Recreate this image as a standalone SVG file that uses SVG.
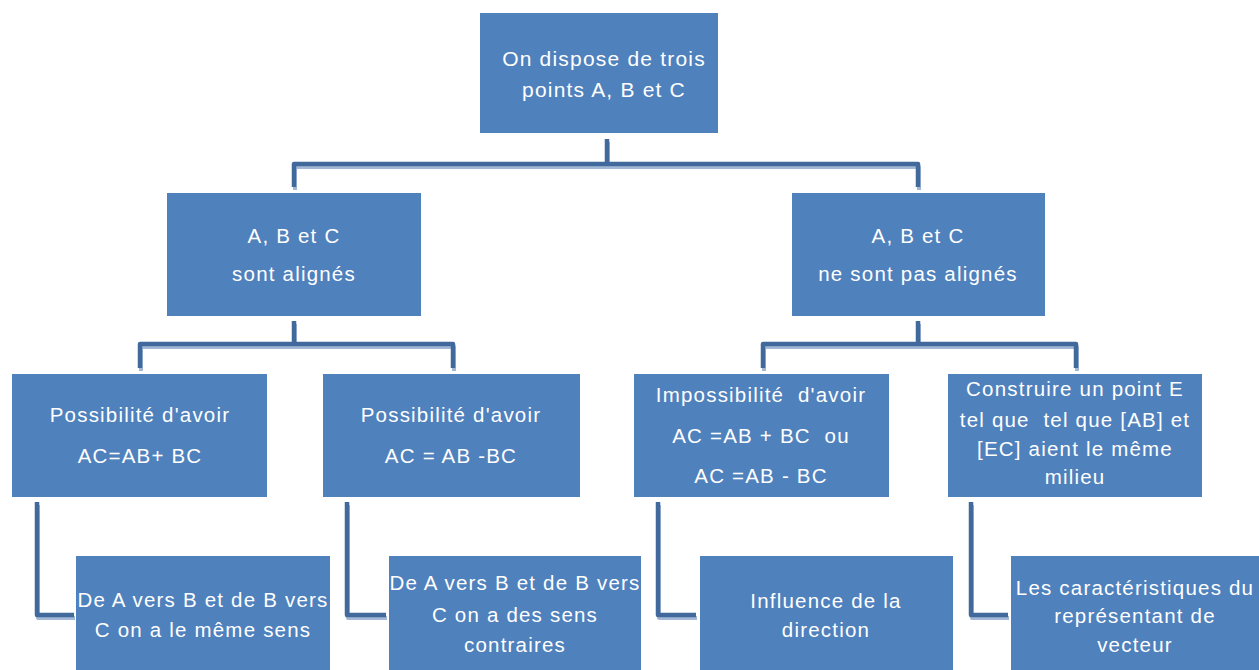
<svg xmlns="http://www.w3.org/2000/svg" width="1259" height="670" viewBox="0 0 1259 670">
<style>
.box{fill:#4f81bd}
.t{font-family:"Liberation Sans",Arial,sans-serif;font-size:20.5px;fill:#ffffff;text-anchor:middle;letter-spacing:1.2px;white-space:pre}
.big{font-size:21px}
.ln{fill:none;stroke:#42699c;stroke-width:4.5;stroke-linejoin:round}
.sh{fill:none;stroke:#a3b8d6;stroke-width:4;stroke-linejoin:round}
</style>
<rect width="1259" height="670" fill="#ffffff"/>
<g id="connectors">
<g transform="translate(1,3)">
<path class="sh" d="M607,139 V164 M294,187 V164 H918 V187"/>
<path class="sh" d="M294,321 V344 M140,368 V344 H453 V368"/>
<path class="sh" d="M918,321 V344 M763,368 V344 H1076 V368"/>
<path class="sh" d="M37,502 V615 H74 M347,502 V615 H386 M658,502 V615 H696 M971,502 V615 H1008"/>
</g>
<path class="ln" d="M607,139 V164 M294,187 V164 H918 V187"/>
<path class="ln" d="M294,321 V344 M140,368 V344 H453 V368"/>
<path class="ln" d="M918,321 V344 M763,368 V344 H1076 V368"/>
<path class="ln" d="M37,502 V615 H74 M347,502 V615 H386 M658,502 V615 H696 M971,502 V615 H1008"/>
</g>
<g id="root">
<rect class="box" x="480" y="13" width="238" height="120"/>
<text class="t big" x="604" y="66">On dispose de trois</text>
<text class="t big" x="604" y="97">points A, B et C</text>
</g>
<g id="aligned">
<rect class="box" x="167" y="193" width="254" height="123"/>
<text class="t" x="294" y="243">A, B et C</text>
<text class="t" x="294" y="281">sont alignés</text>
</g>
<g id="notaligned">
<rect class="box" x="792" y="193" width="253" height="123"/>
<text class="t" x="918" y="243">A, B et C</text>
<text class="t" x="918" y="281">ne sont pas alignés</text>
</g>
<g id="possib1">
<rect class="box" x="12" y="374" width="255" height="123"/>
<text class="t" x="140" y="422">Possibilité d'avoir</text>
<text class="t" x="140" y="463">AC=AB+ BC</text>
</g>
<g id="possib2">
<rect class="box" x="323" y="374" width="257" height="123"/>
<text class="t" x="451" y="422">Possibilité d'avoir</text>
<text class="t" x="451" y="463">AC = AB -BC</text>
</g>
<g id="impossib">
<rect class="box" x="634" y="374" width="255" height="123"/>
<text class="t" x="761" y="402">Impossibilité  d'avoir</text>
<text class="t" x="761" y="443">AC =AB + BC  ou</text>
<text class="t" x="761" y="483">AC =AB - BC</text>
</g>
<g id="construire">
<rect class="box" x="948" y="374" width="254" height="123"/>
<text class="t" x="1075" y="396">Construire un point E</text>
<text class="t" x="1075" y="427">tel que  tel que [AB] et</text>
<text class="t" x="1075" y="456">[EC] aient le même</text>
<text class="t" x="1075" y="484">milieu</text>
</g>
<g id="memesens">
<rect class="box" x="76" y="556" width="254" height="120"/>
<text class="t" x="203" y="607">De A vers B et de B vers</text>
<text class="t" x="203" y="637">C on a le même sens</text>
</g>
<g id="contraires">
<rect class="box" x="389" y="556" width="252" height="120"/>
<text class="t" x="515" y="590">De A vers B et de B vers</text>
<text class="t" x="515" y="622">C on a des sens</text>
<text class="t" x="515" y="652">contraires</text>
</g>
<g id="direction">
<rect class="box" x="700" y="556" width="253" height="120"/>
<text class="t" x="826" y="608">Influence de la</text>
<text class="t" x="826" y="637">direction</text>
</g>
<g id="caracteristiques">
<rect class="box" x="1011" y="556" width="254" height="120"/>
<text class="t" x="1135" y="595">Les caractéristiques du</text>
<text class="t" x="1135" y="623">représentant de</text>
<text class="t" x="1135" y="652">vecteur</text>
</g>
</svg>
